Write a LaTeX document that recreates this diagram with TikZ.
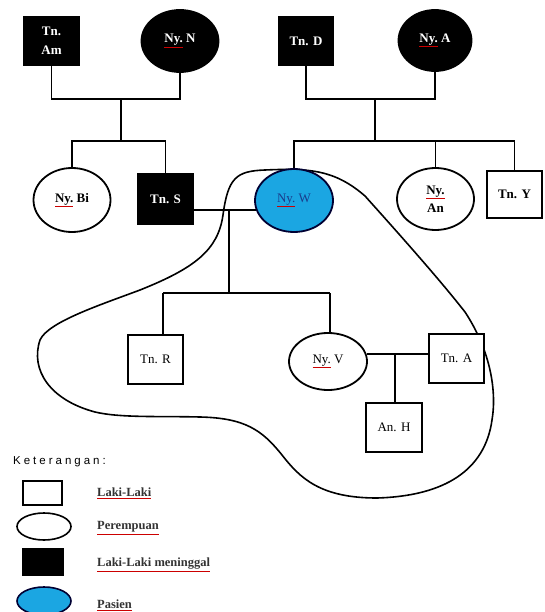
\documentclass[tikz,border=0pt]{standalone}
\usepackage{fontspec}
\setmainfont{Liberation Serif}
\newfontfamily\legsans[LetterSpace=26]{Liberation Sans}
\usetikzlibrary{shapes.geometric,calc}
\definecolor{patblue}{HTML}{1BA6E2}
\definecolor{pattext}{HTML}{1A3C8C}
\newcommand\sul[2]{\textcolor{red!80!black}{\underline{\textcolor{#1}{#2}}}}
\begin{document}
\begin{tikzpicture}[x=1pt,y=-1pt,
  every node/.style={font=\fontsize{13}{18}\selectfont, align=center, inner sep=0pt},
  malebox/.style={draw, line width=1.8pt, rectangle, fill=white, minimum width=55pt, minimum height=49pt},
  femalebox/.style={draw, line width=1.8pt, ellipse, fill=white, minimum width=77pt, minimum height=62pt},
  deadm/.style={malebox, fill=black, text=white, font=\fontsize{13}{19}\selectfont\bfseries},
  deadf/.style={femalebox, fill=black, text=white, font=\fontsize{13}{18}\selectfont\bfseries},
  patient/.style={femalebox, fill=patblue, draw=black!80!blue, text=pattext},
  link/.style={line width=1.8pt},
  loopline/.style={line width=1.6pt},
  legtext/.style={anchor=west, font=\fontsize{12.5}{15}\selectfont\bfseries}
]
\useasboundingbox (0,0) rectangle (544,612);

% household loop
\draw[loopline] (223,215) .. controls (228,178) and (236,171) .. (265,170)
  .. controls (310,168) and (335,170) .. (365,196)
  .. controls (400,235) and (440,280) .. (465,312)
  .. controls (490,350) and (497,390) .. (492,420)
  .. controls (485,470) and (445,496) .. (377,498)
  .. controls (320,498) and (300,478) .. (282,455)
  .. controls (262,430) and (245,418) .. (200,417)
  .. controls (160,416) and (120,418) .. (95,412)
  .. controls (50,400) and (30,370) .. (40,340)
  .. controls (48,322) and (100,305) .. (140,290)
  .. controls (195,268) and (218,250) .. (223,215) -- cycle;

% generation 1
\node[deadm] (am) at (51.5,41) {Tn.\\Am};
\node[deadf] (n) at (180,41) {\sul{white}{Ny.} N};
\node[deadm] (d) at (306,41) {Tn. D};
\node[deadf, minimum width=73pt, minimum height=61pt] (a) at (435,40.5) {\sul{white}{Ny.} A};

% generation 2
\node[femalebox, minimum height=64pt, font=\fontsize{13}{18}\selectfont\bfseries] (bi) at (72,200) {\sul{black}{Ny.} Bi};
\node[deadm, minimum height=50pt] (s) at (165.5,199) {Tn. S};
\node[patient, minimum width=78pt, minimum height=63pt] (w) at (294,200.5) {\sul{pattext}{Ny.} W};
\node[femalebox, font=\fontsize{13}{18}\selectfont\bfseries] (an) at (435.5,199) {\sul{black}{Ny.}\\An};
\node[malebox, minimum height=47pt, font=\fontsize{13}{18}\selectfont\bfseries] (ty) at (514.5,194.5) {Tn. Y};

% generation 3
\node[malebox] (r) at (155.5,359.5) {Tn. R};
\node[femalebox, minimum width=78pt, minimum height=57pt] (v) at (328,361.5) {\sul{black}{Ny.} V};
\node[malebox] (ta) at (456.5,358.5) {Tn. A};
\node[malebox, minimum width=56pt] (h) at (394,427.5) {An. H};

% connectors
\coordinate (m1) at (121,99);
\coordinate (s1) at (121,141);
\draw[link] (am.south) |- (m1) -| (n.south);
\draw[link] (m1) -- (s1);
\draw[link] (bi.north) |- (s1) -| (s.north);

\coordinate (m2) at (375,99);
\coordinate (s2) at (375,141);
\draw[link] (d.south) |- (m2) -| (a.south);
\draw[link] (m2) -- (s2);
\draw[link] (w.north) |- (s2) -| (ty.north);
\draw[link] (an.north) -- (an.north |- s2);

\coordinate (mw) at (229,210);
\coordinate (c4) at (163,293);
\coordinate (c5) at (330,293);
\draw[link] (s.east |- mw) -- ($(w.west |- mw)+(2,0)$);
\draw[link] (mw) -- (mw |- c4);
\draw[link] (c4) -- (c5);
\draw[link] (c4) -- (c4 |- r.north);
\draw[link] (c5) -- (c5 |- v.north);

\coordinate (mv) at (395,354);
\draw[link] ($(v.east |- mv)+(-1,0)$) -- (ta.west |- mv);
\draw[link] (mv) -- (mv |- h.north);

% legend
\node[anchor=west, font=\fontsize{11.5}{14}\legsans] (ket) at (13,462) {Keterangan:};
\node[draw, line width=1.6pt, fill=white, minimum width=39pt, minimum height=24pt] (lm) at (42.5,493) {};
\node[draw, line width=1.6pt, ellipse, fill=white, minimum width=54pt, minimum height=27pt] (lf) at (44,526.5) {};
\node[draw, line width=1.6pt, fill=black, minimum width=40pt, minimum height=26pt] (ld) at (43,562) {};
\node[draw=black!80!blue, line width=1.6pt, ellipse, fill=patblue, minimum width=54pt, minimum height=28pt] (lp) at (44,601) {};
\node[legtext] (tm) at (97,493) {\sul{black!80}{Laki-Laki}};
\node[legtext] (tf) at (97,528) {\sul{black!80}{Perempuan}};
\node[legtext] (td) at (97,565) {\sul{black!80}{Laki-Laki meninggal}};
\node[legtext] (tp) at (97,605) {\sul{black!80}{Pasien}};
\end{tikzpicture}
\end{document}
